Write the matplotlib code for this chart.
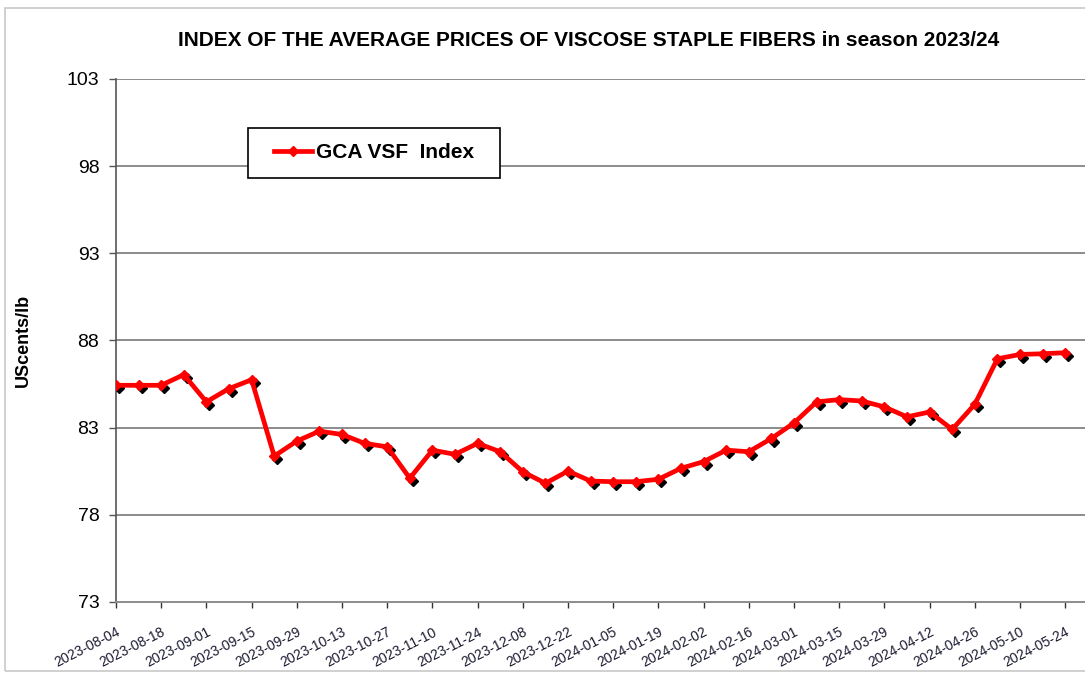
import numpy as np
import matplotlib.pyplot as plt
from matplotlib.transforms import ScaledTranslation
from matplotlib.patches import Rectangle

plt.rcParams['font.family'] = ['Liberation Sans', 'DejaVu Sans']

# weekly index values, 2023-08-04 .. 2024-05-24
vsf_index = [85.43, 85.43, 85.43, 86.04, 84.48, 85.24, 85.75, 81.37, 82.23, 82.80,
             82.61, 82.10, 81.90, 80.10, 81.71, 81.47, 82.10, 81.62, 80.47, 79.81,
             80.51, 79.94, 79.90, 79.90, 80.04, 80.67, 81.05, 81.71, 81.62, 82.38,
             83.27, 84.48, 84.61, 84.53, 84.19, 83.62, 83.90, 82.90, 84.34, 86.95,
             87.20, 87.24, 87.30]

tick_labels = ['2023-08-04', '2023-08-18', '2023-09-01', '2023-09-15', '2023-09-29',
               '2023-10-13', '2023-10-27', '2023-11-10', '2023-11-24', '2023-12-08',
               '2023-12-22', '2024-01-05', '2024-01-19', '2024-02-02', '2024-02-16',
               '2024-03-01', '2024-03-15', '2024-03-29', '2024-04-12', '2024-04-26',
               '2024-05-10', '2024-05-24']

y_ticks = [73, 78, 83, 88, 93, 98, 103]

x = np.arange(len(vsf_index))

W, H = 1085, 675
fig = plt.figure(figsize=(W / 100, H / 100), dpi=100)
ax = fig.add_axes([116 / W, (H - 602) / H, 969 / W, 523 / H])

# grey frame round the chart area
fig.patches.append(Rectangle((5 / W, 4 / H), 1.2, 663 / H,
                             transform=fig.transFigure, fill=False,
                             edgecolor='#c8c8c8', lw=1.2, zorder=-1))

# black "shadow" diamonds, shifted down-right
shadow = ax.transData + ScaledTranslation(2.2 / 72, -2.2 / 72, fig.dpi_scale_trans)
ax.plot(x, vsf_index, ls='none', marker='D', ms=5, color='black', transform=shadow, zorder=3)
ax.plot(x, vsf_index, color='#ff0000', lw=3.4, marker='D', ms=5.5,
        label='GCA VSF  Index', zorder=4)

ax.set_ylim(73, 103)
ax.set_xlim(0, 969 / 22.6)
ax.set_yticks(y_ticks)
ax.set_yticklabels([str(v) for v in y_ticks], fontsize=14)
ax.set_xticks(x[::2])
ax.set_xticklabels(tick_labels, rotation=27, ha='right', rotation_mode='anchor',
                   fontsize=10, color='#1a1a30')

for v in y_ticks[1:]:
    ax.axhline(v, color='#8c8c8c', lw=1.4, zorder=1)

for s in ['top', 'right']:
    ax.spines[s].set_visible(False)
ax.spines['left'].set_color('#555555')
ax.spines['left'].set_linewidth(1.2)
ax.spines['bottom'].set_color('#8c8c8c')
ax.spines['bottom'].set_linewidth(1.4)
ax.tick_params(axis='y', length=5, width=1, color='#555555', pad=7)
ax.tick_params(axis='x', length=4.5, width=1, color='#333333', pad=12)

fig.text(23 / W, 1 - 340 / H, 'UScents/lb', rotation=90, ha='center', va='center',
         fontsize=13, fontweight='bold')
fig.text(589 / W, 1 - 41 / H, 'INDEX OF THE AVERAGE PRICES OF VISCOSE STAPLE FIBERS in season 2023/24',
         ha='center', va='center', fontsize=15, fontweight='bold')

# legend box drawn by hand, legend entry placed inside it
ax.add_patch(Rectangle((248 / W, 1 - 178 / H), 252 / W, 50 / H,
                       transform=fig.transFigure, fill=True, facecolor='white',
                       edgecolor='black', lw=1.2, zorder=5, clip_on=False))
leg = ax.legend(loc='center left', bbox_to_anchor=(274 / W, 1 - 153 / H),
                bbox_transform=fig.transFigure, borderaxespad=0, borderpad=0,
                frameon=False, prop={'weight': 'bold', 'size': 15},
                handlelength=1.8, handletextpad=0.2)
leg.set_zorder(6)

fig.savefig('out.png', dpi=100)
